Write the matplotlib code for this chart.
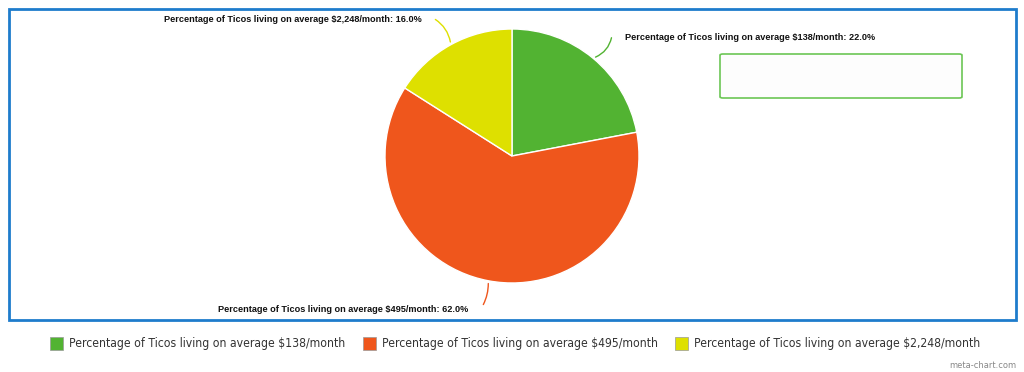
import matplotlib.pyplot as plt
from matplotlib.patches import Rectangle, FancyBboxPatch, FancyArrowPatch
import numpy as np

labels = ['Percentage of Ticos living on average $138/month',
          'Percentage of Ticos living on average $495/month',
          'Percentage of Ticos living on average $2,248/month']
values = [22.0, 62.0, 16.0]
colors = ['#52b332', '#ef561c', '#dee000']

W, H = 1024, 372
fig = plt.figure(figsize=(W / 100, H / 100), dpi=100)


def fx(px):
    return px / W


def fy(py):
    return 1 - py / H


# outer blue frame
fig.patches.append(Rectangle((fx(9), fy(320)), fx(1016) - fx(9), fy(9) - fy(320),
                             transform=fig.transFigure, fill=False,
                             edgecolor='#1e7ccc', linewidth=2))

# pie
cx, cy, r = 512, 156, 127
ax = fig.add_axes([fx(cx - r), fy(cy + r), 2 * r / W, 2 * r / H])
wedges, _ = ax.pie(values, colors=colors, startangle=90, counterclock=False,
                   radius=1, wedgeprops=dict(edgecolor='white', linewidth=1))
ax.set_xlim(-1, 1)
ax.set_ylim(-1, 1)
ax.axis('off')

# labels with curved leader lines
lab_kw = dict(fontsize=6.6, fontweight='bold', family='Liberation Sans', color='#111111')
lab_pos = [(625, 38, 'left'), (468, 310, 'right'), (422, 20, 'right')]
line_start = [(612, 35), (482, 307), (433, 18)]
line_rad = [-0.3, 0.15, -0.25]
cum = 0
for i, (v, c) in enumerate(zip(values, colors)):
    mid = 90 - (cum + v / 2) * 3.6
    cum += v
    ex = cx + r * np.cos(np.radians(mid))
    ey = cy - r * np.sin(np.radians(mid))
    tx, ty, ha = lab_pos[i]
    fig.text(fx(tx), fy(ty), f'{labels[i]}: {v:.1f}%', ha=ha, va='center', **lab_kw)
    sx, sy = line_start[i]
    fig.patches.append(FancyArrowPatch((fx(sx), fy(sy)), (fx(ex), fy(ey)),
                                       transform=fig.transFigure, arrowstyle='-',
                                       connectionstyle=f'arc3,rad={line_rad[i]}',
                                       color=c, linewidth=1))

# empty box
fig.patches.append(FancyBboxPatch((fx(720), fy(98)), fx(962) - fx(720), fy(54) - fy(98),
                                  boxstyle='round,pad=0,rounding_size=0.003',
                                  transform=fig.transFigure, facecolor='#fdfdfd',
                                  edgecolor='#6cc655', linewidth=1.2))

# legend
leg_x = [50, 363, 675]
for x, lab, c in zip(leg_x, labels, colors):
    fig.patches.append(Rectangle((fx(x), fy(350)), fx(13), 13 / H,
                                 transform=fig.transFigure, facecolor=c,
                                 edgecolor='#999999', linewidth=0.5))
    fig.text(fx(x + 19), fy(344), lab, ha='left', va='center', fontsize=8.7,
             family='DejaVu Sans', fontstretch='condensed', color='#333333')

fig.text(fx(1016), fy(365), 'meta-chart.com', ha='right', va='center',
         fontsize=6, color='#888888')

fig.savefig('out.png', dpi=100)
